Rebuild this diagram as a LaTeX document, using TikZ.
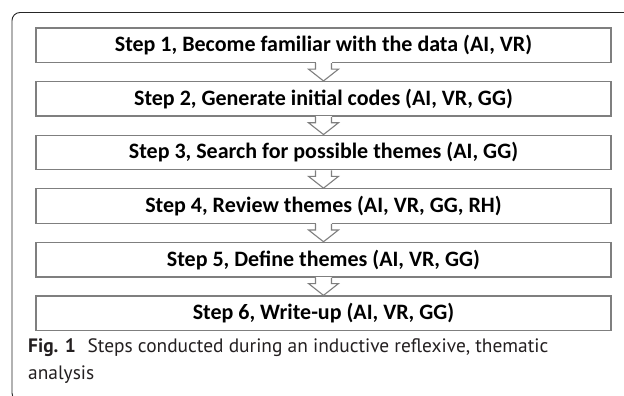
\documentclass[tikz,border=0pt]{standalone}
\usepackage{fontspec}
\setmainfont{Carlito}
\newfontfamily\capfont{PT Sans}
\usetikzlibrary{calc}
\definecolor{boxgray}{HTML}{7F7F7F}
\definecolor{captext}{HTML}{231F20}
\tikzset{
  x=1pt, y=-1pt,
  stepbox/.style={draw=boxgray, line width=1.3pt, fill=white, minimum width=575pt, minimum height=34.5pt, inner sep=0pt, font=\fontsize{22}{26}\selectfont\bfseries, text=black},
  blockarrow/.style={draw=boxgray, line width=1.1pt, fill=white, line join=miter},
  frameline/.style={draw=black!85, line width=0.9pt, rounded corners=8pt},
}
\begin{document}
\begin{tikzpicture}
\useasboundingbox (0,0) rectangle (624,396);
\clip (0,0) rectangle (624,396);
\draw[frameline] (640,12.5) -- (12,12.5) -- (12,401) -- (640,401);
\node[stepbox] (s1) at (323.5,45.25) {Step 1, Become familiar with the data (AI, VR)};
\node[stepbox] (s2) at (323.5,98.85) {Step 2, Generate initial codes (AI, VR, GG)};
\node[stepbox] (s3) at (323.5,152.45) {Step 3, Search for possible themes (AI, GG)};
\node[stepbox] (s4) at (323.5,206.05) {Step 4, Review themes (AI, VR, GG, RH)};
\node[stepbox] (s5) at (323.5,259.65) {Step 5, Define themes (AI, VR, GG)};
\node[stepbox] (s6) at (323.5,313.25) {Step 6, Write-up (AI, VR, GG)};
\foreach \i/\j in {s1/s2,s2/s3,s3/s4,s4/s5,s5/s6}{
  \fill[white] ($(\i.south)+(-8,-0.8)$) rectangle ($(\i.south)+(8,1)$);
  \draw[blockarrow] ($(\i.south)+(-8,0)$) -- ($(\i.south)+(-8,6)$) -- ($(\i.south)+(-15,6)$) -- ($(\j.north)$) -- ($(\i.south)+(15,6)$) -- ($(\i.south)+(8,6)$) -- ($(\i.south)+(8,0)$);
}
\node[anchor=north west, align=left, inner sep=0pt, text=captext, font=\capfont\fontsize{19.4}{27}\selectfont] (cap) at (28,338) {\textbf{Fig. 1}\hspace{0.6em}Steps conducted during an inductive reflexive, thematic\\analysis};
\end{tikzpicture}
\end{document}
